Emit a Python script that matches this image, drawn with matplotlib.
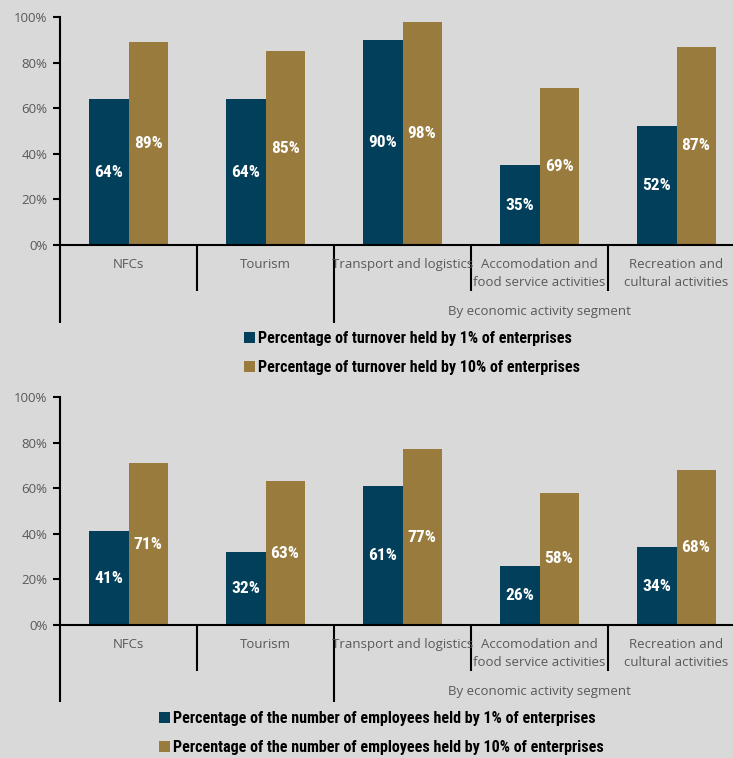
import numpy as np
import matplotlib.pyplot as plt
from matplotlib.patches import Patch
from matplotlib import font_manager

# data
categories = ["NFCs", "Tourism", "Transport and logistics",
              "Accomodation and\nfood service activities",
              "Recreation and\ncultural activities"]
turnover_1 = [64, 64, 90, 35, 52]
turnover_10 = [89, 85, 98, 69, 87]
employees_1 = [41, 32, 61, 26, 34]
employees_10 = [71, 63, 77, 58, 68]
group_label = "By economic activity segment"
legend_top = ["Percentage of turnover held by 1% of enterprises",
              "Percentage of turnover held by 10% of enterprises"]
legend_bottom = ["Percentage of the number of employees held by 1% of enterprises",
                 "Percentage of the number of employees held by 10% of enterprises"]

BLUE = "#023f5b"
GOLD = "#9a7b3e"
BG = "#d9d9d9"
GREY = "#595959"
BASE_FONT = "Open Sans"

# pick a narrow bold face if one is installed
available = {f.name for f in font_manager.fontManager.ttflist}
narrow = [n for n in ["Liberation Sans Narrow", "Roboto Condensed",
                      "Open Sans Condensed", "DejaVu Sans Condensed"] if n in available]
BOLD_FONT = narrow[0] if narrow else "Lato"
SHRINK = 1.0 if narrow else 0.85

fig = plt.figure(figsize=(7.33, 7.58), dpi=100)
fig.patch.set_facecolor(BG)


def draw_panel(ax, s1, s2, labels, legend_anchor):
    ax.set_facecolor(BG)
    x = np.arange(len(categories))
    w = 0.285
    b1 = ax.bar(x - w / 2, s1, w, color=BLUE, edgecolor="none")
    b2 = ax.bar(x + w / 2, s2, w, color=GOLD, edgecolor="none")

    for bars, vals in ((b1, s1), (b2, s2)):
        for rect, v in zip(bars, vals):
            ax.text(rect.get_x() + rect.get_width() / 2, v / 2, f"{v}%",
                    ha="center", va="center", color="white",
                    fontsize=12.5 * SHRINK, fontweight="bold", family=BOLD_FONT)

    ax.set_xlim(-0.5, len(categories) - 0.5)
    ax.set_ylim(0, 100)
    ax.set_yticks(range(0, 101, 20))
    ax.set_yticklabels([f"{t}%" for t in range(0, 101, 20)],
                       family=BASE_FONT, fontsize=9.5, color=GREY)
    ax.tick_params(axis="y", length=5, width=1.5, color="black", pad=4)
    ax.set_xticks([])

    for side in ("top", "right"):
        ax.spines[side].set_visible(False)
    for side in ("left", "bottom"):
        ax.spines[side].set_linewidth(1.5)
        ax.spines[side].set_color("black")

    # multi-level category axis
    tr = ax.get_xaxis_transform()
    short, long_ = -0.20, -0.34
    for sep in [-0.5, 0.5, 1.5, 2.5, 3.5]:
        depth = long_ if sep in (-0.5, 1.5) else short
        ax.plot([sep, sep], [0, depth], transform=tr, color="black",
                lw=1.5, clip_on=False, solid_capstyle="butt")
    for xi, lab in zip(x, categories):
        ax.text(xi, -0.055, lab, transform=tr, ha="center", va="top",
                fontsize=9.5, color=GREY, family=BASE_FONT, linespacing=1.5)
    ax.text(3.0, -0.29, group_label, transform=tr, ha="center", va="center",
            fontsize=9.5, color=GREY, family=BASE_FONT)

    handles = [Patch(facecolor=BLUE, edgecolor="none"),
               Patch(facecolor=GOLD, edgecolor="none")]
    fig.legend(handles, labels, loc="center left", bbox_to_anchor=legend_anchor,
               frameon=False, handlelength=0.7, handleheight=0.7,
               handletextpad=0.15, labelspacing=0.85, borderpad=0,
               borderaxespad=0,
               prop={"family": BOLD_FONT, "weight": "bold", "size": 11.5 * SHRINK})


ax_top = fig.add_axes([0.0819, 0.6768, 0.9345, 0.3008])
draw_panel(ax_top, turnover_1, turnover_10, legend_top, (0.333, 0.5343))

ax_bot = fig.add_axes([0.0819, 0.1755, 0.9345, 0.3008])
draw_panel(ax_bot, employees_1, employees_10, legend_bottom, (0.217, 0.033))

fig.savefig("out.png", dpi=100, facecolor=BG)
